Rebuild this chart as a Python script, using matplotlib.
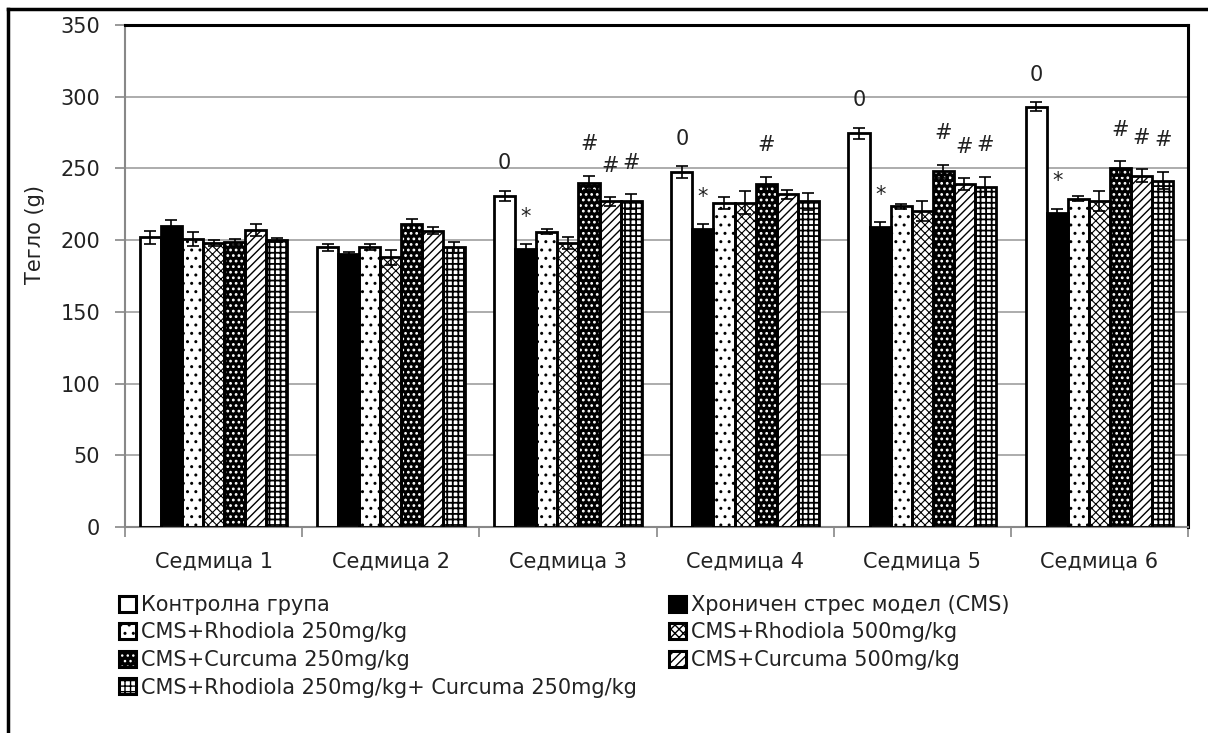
import matplotlib
matplotlib.use('Agg')
import matplotlib.pyplot as plt
from matplotlib.lines import Line2D
from matplotlib.patches import Patch
from matplotlib.legend_handler import HandlerTuple
import numpy as np

plt.rcParams['font.family'] = ['DejaVu Sans']

weeks = ['Седмица 1', 'Седмица 2', 'Седмица 3', 'Седмица 4', 'Седмица 5', 'Седмица 6']
groups = ['Контролна група', 'Хроничен стрес модел (CMS)',
          'CMS+Rhodiola 250mg/kg', 'CMS+Rhodiola 500mg/kg',
          'CMS+Curcuma 250mg/kg', 'CMS+Curcuma 500mg/kg',
          'CMS+Rhodiola 250mg/kg+ Curcuma 250mg/kg']

control = [202, 195, 231, 247.5, 274.5, 293]
cms = [210, 190, 194, 208, 209, 219]
rh250 = [201, 195, 206, 226, 223.5, 229]
rh500 = [198, 188, 198, 226, 220, 227]
cu250 = [198.5, 211, 240, 239, 248, 250]
cu500 = [207, 206.5, 227, 232, 239, 245]
combo = [200, 195, 227, 227, 237, 241.5]

control_err = [4.5, 2.5, 3.5, 4, 4, 3]
cms_err = [4, 2, 3, 3, 3.5, 3]
rh250_err = [5, 2, 1.5, 4, 2, 2]
rh500_err = [2, 5, 4, 8, 7, 7]
cu250_err = [2, 4, 5, 5, 4.5, 5]
cu500_err = [4, 2.5, 3, 3, 4, 4.5]
combo_err = [1.5, 4, 5, 6, 7, 6]

# significance marks (index of week -> label)
marks_control = {2: '0', 3: '0', 4: '0', 5: '0'}
marks_cms = {2: '*', 3: '*', 4: '*', 5: '*'}
marks_cu250 = {2: '#', 3: '#', 4: '#', 5: '#'}
marks_cu500 = {2: '#', 4: '#', 5: '#'}
marks_combo = {2: '#', 4: '#', 5: '#'}

values = [control, cms, rh250, rh500, cu250, cu500, combo]
errors = [control_err, cms_err, rh250_err, rh500_err, cu250_err, cu500_err, combo_err]
marks = [marks_control, marks_cms, {}, {}, marks_cu250, marks_cu500, marks_combo]

# face, hatch colour, hatch, hatch linewidth
styles = [
    ('white', 'black', '', 1.0),
    ('black', 'black', '', 1.0),
    ('white', 'black', '..', 1.0),
    ('white', 'black', 'xxxx', 0.8),
    ('black', 'white', '...', 1.2),
    ('white', 'black', '////', 1.0),
    ('white', 'black', '+++', 1.3),
]

fig = plt.figure(figsize=(12.08, 7.33), dpi=100)
ax = fig.add_axes([125 / 1208, 1 - 527 / 733, (1188 - 125) / 1208, (527 - 25) / 733])

x = np.arange(len(weeks))
w = 0.119
handles = []
for j, (vals, errs, st) in enumerate(zip(values, errors, styles)):
    face, hcol, hatch, hlw = st
    pos = x + (j - 3) * w
    with plt.rc_context({'hatch.linewidth': hlw}):
        ax.bar(pos, vals, w, color=face, edgecolor=hcol, hatch=hatch, linewidth=0, zorder=2)
        ax.bar(pos, vals, w, fill=False, edgecolor='black', linewidth=2, zorder=3)
        h1 = Patch(facecolor=face, edgecolor=hcol, hatch=hatch, linewidth=0)
    h2 = Patch(fill=False, edgecolor='black', linewidth=2.2)
    handles.append((h1, h2))
    ax.errorbar(pos, vals, yerr=errs, fmt='none', ecolor='black', elinewidth=1.2,
                capsize=4.5, capthick=1.2, zorder=4)
    for i, lab in marks[j].items():
        dy = 22 if lab == '#' else 19
        ax.text(pos[i], vals[i] + errs[i] + dy, lab, ha='center', va='center',
                fontsize=15, color='#222222', zorder=5)

ax.set_xlim(-0.5, len(weeks) - 0.5)
ax.set_ylim(0, 350)
ax.set_yticks(np.arange(0, 351, 50))
ax.set_xticks(x)
ax.set_xticklabels(weeks)
ax.set_xticks(np.arange(-0.5, len(weeks), 1), minor=True)
ax.tick_params(axis='x', which='major', length=0, pad=18, labelsize=15, labelcolor='#222222')
ax.tick_params(axis='x', which='minor', length=7, width=1.2, color='#888888')
ax.tick_params(axis='y', length=7, width=1.2, color='#888888', labelsize=15,
               labelcolor='#222222', pad=11)
ax.yaxis.grid(True, color='#a6a6a6', linewidth=1.3, zorder=0)
ax.set_axisbelow(True)
ax.set_ylabel('Тегло (g)', fontsize=15, color='#222222')
ax.yaxis.set_label_coords((45 - 125) / 1063, (527 - 235) / 502)

for side in ['left', 'bottom']:
    ax.spines[side].set_color('#888888')
    ax.spines[side].set_linewidth(1.5)
for side in ['top', 'right']:
    ax.spines[side].set_color('black')
    ax.spines[side].set_linewidth(2.2)

# legend is filled column by column, so reorder to read row by row
order = [0, 2, 4, 6, 1, 3, 5]
ax.legend([handles[k] for k in order], [groups[k] for k in order],
          handler_map={tuple: HandlerTuple(ndivide=1)},
          loc='upper left', bbox_to_anchor=(119 / 1208, 1 - 595 / 733),
          bbox_transform=fig.transFigure, ncol=2, frameon=False, fontsize=15,
          handlelength=0.8, handleheight=0.8, handletextpad=0.25,
          columnspacing=1.55, labelspacing=0.36, borderpad=0, borderaxespad=0,
          labelcolor='#222222')

# outer frame (left and top edges visible)
fig.add_artist(Line2D([8 / 1208, 8 / 1208], [0, 1 - 9 / 733], transform=fig.transFigure,
                      color='black', linewidth=2.5))
fig.add_artist(Line2D([8 / 1208, 1], [1 - 9 / 733, 1 - 9 / 733], transform=fig.transFigure,
                      color='black', linewidth=2.5))

fig.savefig('out.png', dpi=100)
